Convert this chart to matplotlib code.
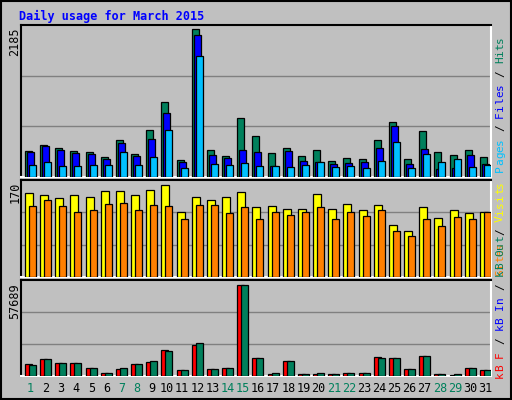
import matplotlib
matplotlib.use("Agg")
import matplotlib.pyplot as plt

days = list(range(1, 32))
weekend = [1, 7, 8, 14, 15, 21, 22, 28, 29]
hits = [390,479,435,390,375,301,553,346,701,1116,257,2185,405,316,879,613,361,435,316,405,242,287,272,553,820,272,687,375,331,405,301]
files = [375,464,405,361,346,272,509,316,568,953,227,2109,331,287,405,375,168,390,242,227,198,212,227,435,761,198,420,124,138,331,198]
pages = [183,227,168,168,183,183,375,183,301,701,138,1798,198,183,212,168,168,153,183,227,153,168,138,242,524,138,346,227,272,153,183]
visits = [155,150,146,150,148,159,159,150,161,170,120,148,142,148,157,128,131,126,126,152,126,135,124,133,96,85,128,109,124,117,120]
sites = [130,142,131,120,124,135,137,124,133,130,106,133,133,117,128,106,119,115,120,128,106,119,113,124,84,76,107,93,111,106,119]
kb_f = [7368,10946,8420,8420,5263,2105,4631,7368,9052,16630,4000,19787,4631,5263,57689,11578,1474,9683,1474,1474,1474,2105,2105,12209,11578,4631,12841,1474,842,5263,4000]
kb_in = [150]*31
kb_out = [7157,10946,8420,8420,5263,2105,5263,7368,9683,15998,4000,21050,4631,5263,57689,11578,2105,9683,1474,2105,1474,2105,2105,11578,11578,4631,12841,1474,1474,5263,4000]

W, H = 512, 400
BG = "#C0C0C0"
fig = plt.figure(figsize=(W/100, H/100), dpi=100, facecolor=BG)
mono = "DejaVu Sans Mono"
pxw = 15.16  # pixels per day

def ax_at(x0, y0, x1, y1):
    ax = fig.add_axes([x0/W, 1-y1/H, (x1-x0)/W, (y1-y0)/H], facecolor=BG)
    ax.set_xticks([]); ax.set_yticks([])
    for s in ["left", "top"]:
        ax.spines[s].set_color("black")
    for s in ["right", "bottom"]:
        ax.spines[s].set_color("white")
    for s in ax.spines.values():
        s.set_linewidth(1.5)
    ax.set_xlim(0.5, 31.5)
    return ax

def bars(ax, vals, off, width, color):
    xs = [d - 0.5 + off/pxw for d in days]
    ax.bar(xs, vals, width=width/pxw, align="edge", color=color,
           edgecolor="black", linewidth=0.9, zorder=3)

def grid(ax, top):
    for f in (1/3, 2/3):
        ax.axhline(top*f, color="#808080", lw=1, zorder=1)

a1 = ax_at(21, 25, 491, 177)
a1.set_ylim(0, 2185 * 1.03)
grid(a1, 2185 * 1.03)
bars(a1, hits, 4, 7, "#00805C")
bars(a1, files, 6, 7, "#0000FF")
bars(a1, pages, 8, 7, "#00C0FF")

a2 = ax_at(21, 180, 491, 277)
a2.set_ylim(0, 170 * 1.05)
grid(a2, 170 * 1.05)
bars(a2, visits, 4, 8, "#FFFF00")
bars(a2, sites, 8, 7, "#FF8000")

a3 = ax_at(21, 280, 491, 376)
a3.set_ylim(0, 57689 * 1.05)
grid(a3, 57689 * 1.05)
bars(a3, kb_f, 4, 7, "#FF0000")
bars(a3, kb_in, 6, 3, "#0000FF")
bars(a3, kb_out, 8, 7, "#00805C")

def t(x, y, s, **kw):
    fig.text(x/W, 1-y/H, s, family=mono, **kw)

t(19, 16, "Daily usage for March 2015", color="#0000FF", fontsize=8.5,
  fontweight="bold", va="center", ha="left")

t(15, 27, "2185", rotation=90, fontsize=8.5, ha="center", va="top")
t(15, 182, "170", rotation=90, fontsize=8.5, ha="center", va="top")
t(15, 283, "57689", rotation=90, fontsize=8.5, ha="center", va="top")

def vlabel(x, ybottom, parts, step=6.8):
    c = 0
    for s, col in parts:
        for ch in s:
            if ch != " ":
                t(x, ybottom - (c + 0.5)*step, ch, rotation=90, color=col,
                  fontsize=8, ha="center", va="center")
            c += 1

vlabel(500, 172, [("Pages", "#00C0FF"), (" / ", "black"), ("Files", "#0000FF"),
                  (" / ", "black"), ("Hits", "#00805C")])
vlabel(500, 276, [("Sites", "#FF8000"), (" / ", "black"), ("Visits", "#FFFF00")])
vlabel(500, 378, [("kB F", "#FF0000"), (" / ", "black"), ("kB In", "#0000FF"),
                  (" / ", "black"), ("kB Out", "#00805C")])

for d in days:
    x = 21 + (d - 0.5) * pxw + 2
    t(x, 389, str(d), fontsize=8.5, ha="center", va="center",
      color="#00805C" if d in weekend else "black")

fig.patches.append(plt.Rectangle((0.002, 0.002), 0.996, 0.996, transform=fig.transFigure,
                                 fill=False, edgecolor="black", lw=1.5))
fig.savefig("out.png", dpi=100, facecolor=BG)
